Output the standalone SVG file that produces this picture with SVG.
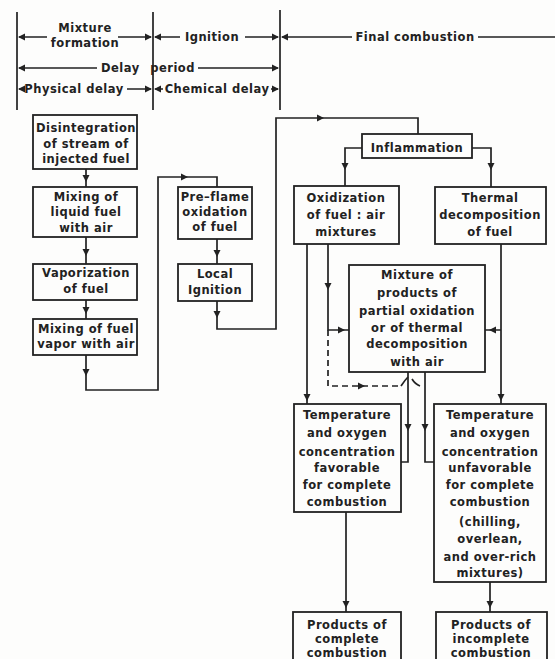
<svg xmlns="http://www.w3.org/2000/svg" xmlns:xlink="http://www.w3.org/1999/xlink" width="555" height="659" viewBox="0 0 555 659">
<style>
.bg{fill:#fdfdfc}
.box{fill:none;stroke:#222;stroke-width:1.8}
.ln{fill:none;stroke:#222;stroke-width:1.7}
.ds{fill:none;stroke:#222;stroke-width:1.7;stroke-dasharray:6 4}
.ah{fill:#222}
text{font-family:"DejaVu Sans","Liberation Sans",sans-serif;font-weight:bold;font-size:11.5px;fill:#222;text-anchor:middle;letter-spacing:0.5px}
.hd{font-size:11.5px}
</style>
<defs>
<path id="a" d="M-4,-3.5 L3,0 L-4,3.5 z"/>
</defs>
<rect class="bg" x="0" y="0" width="555" height="659"/>

<g id="header">
<path class="ln" d="M17,12 V110 M153,12 V110 M280,10 V110"/>
<path class="ln" d="M19,37 H47 M118,37 H151 M155,37 H180 M245,37 H278 M282,37 H352 M478,37 H555"/>
<path class="ln" d="M19,68 H97 M198,68 H278"/>
<path class="ln" d="M19,89 H22 M127,89 H151 M155,89 H163 M271,89 H278"/>
<g class="ah">
<use xlink:href="#a" transform="translate(21,37) rotate(180)"/>
<use xlink:href="#a" transform="translate(149,37)"/>
<use xlink:href="#a" transform="translate(157,37) rotate(180)"/>
<use xlink:href="#a" transform="translate(276,37)"/>
<use xlink:href="#a" transform="translate(284,37) rotate(180)"/>
<use xlink:href="#a" transform="translate(21,68) rotate(180)"/>
<use xlink:href="#a" transform="translate(276,68)"/>
<use xlink:href="#a" transform="translate(21,89) rotate(180)"/>
<use xlink:href="#a" transform="translate(149,89)"/>
<use xlink:href="#a" transform="translate(157,89) rotate(180)"/>
<use xlink:href="#a" transform="translate(276,89)"/>
</g>
<text class="hd" x="85" y="32">Mixture</text>
<text class="hd" x="85" y="47">formation</text>
<text class="hd" x="212" y="41">Ignition</text>
<text class="hd" x="415" y="41">Final combustion</text>
<text class="hd" x="148" y="72" word-spacing="6">Delay period</text>
<text class="hd" x="74" y="93">Physical delay</text>
<text class="hd" x="217" y="93">Chemical delay</text>
</g>

<g id="connectors">
<path class="ln" d="M86,169 V187 M86,237 V264 M86,300 V319"/>
<path class="ln" d="M86,355 V390 H158 V177 H217 V187"/>
<path class="ln" d="M217,239 V264"/>
<path class="ln" d="M217,301 V329 H276 V118 H418 V134"/>
<path class="ln" d="M362,148 H345 V186 M472,148 H491 V187"/>
<path class="ln" d="M307,244 V404 M328,244 V330 H349 M501,244 V404 M501,330 H485"/>
<path class="ds" d="M328,330 V386 H401"/>
<path class="ln" d="M401,386 Q405,380 408,377 M412,379 Q415,384 420,386" stroke-dasharray="none"/>
<path class="ln" d="M408,372 V462 H401 M425,372 V462 H434"/>
<path class="ln" d="M346,512 V612 M490,582 V612"/>
<g class="ah">
<use xlink:href="#a" transform="translate(86,179) rotate(90)"/>
<use xlink:href="#a" transform="translate(86,253) rotate(90)"/>
<use xlink:href="#a" transform="translate(86,311) rotate(90)"/>
<use xlink:href="#a" transform="translate(86,373) rotate(90)"/>
<use xlink:href="#a" transform="translate(185,177)"/>
<use xlink:href="#a" transform="translate(217,254) rotate(90)"/>
<use xlink:href="#a" transform="translate(217,315) rotate(90)"/>
<use xlink:href="#a" transform="translate(321,118)"/>
<use xlink:href="#a" transform="translate(345,167) rotate(90)"/>
<use xlink:href="#a" transform="translate(491,167) rotate(90)"/>
<use xlink:href="#a" transform="translate(307,398) rotate(90)"/>
<use xlink:href="#a" transform="translate(328,287) rotate(90)"/>
<use xlink:href="#a" transform="translate(342,330)"/>
<use xlink:href="#a" transform="translate(501,398) rotate(90)"/>
<use xlink:href="#a" transform="translate(492,330) rotate(180)"/>
<use xlink:href="#a" transform="translate(362,386)"/>
<use xlink:href="#a" transform="translate(408,428) rotate(90)"/>
<use xlink:href="#a" transform="translate(425,428) rotate(90)"/>
<use xlink:href="#a" transform="translate(346,605) rotate(90)"/>
<use xlink:href="#a" transform="translate(490,605) rotate(90)"/>
</g>
</g>

<g id="n1"><rect class="box" x="33" y="115" width="104" height="54"/>
<text x="86" y="132">Disintegration</text><text x="86" y="148">of stream of</text><text x="86" y="163">injected fuel</text></g>
<g id="n2"><rect class="box" x="33" y="187" width="104" height="50"/>
<text x="86" y="201">Mixing of</text><text x="86" y="216">liquid fuel</text><text x="86" y="232">with air</text></g>
<g id="n3"><rect class="box" x="33" y="264" width="104" height="36"/>
<text x="86" y="277">Vaporization</text><text x="86" y="293">of fuel</text></g>
<g id="n4"><rect class="box" x="33" y="319" width="104" height="36"/>
<text x="86" y="333">Mixing of fuel</text><text x="86" y="348">vapor with air</text></g>
<g id="n5"><rect class="box" x="178" y="187" width="74" height="52"/>
<text x="215" y="201">Pre–flame</text><text x="215" y="216">oxidation</text><text x="215" y="231">of fuel</text></g>
<g id="n6"><rect class="box" x="178" y="264" width="74" height="37"/>
<text x="215" y="278">Local</text><text x="215" y="294">Ignition</text></g>
<g id="n7"><rect class="box" x="362" y="134" width="110" height="24"/>
<text x="417" y="152">Inflammation</text></g>
<g id="n8"><rect class="box" x="294" y="186" width="105" height="58"/>
<text x="346" y="202">Oxidization</text><text x="346" y="219">of fuel : air</text><text x="346" y="236">mixtures</text></g>
<g id="n9"><rect class="box" x="435" y="187" width="111" height="57"/>
<text x="490" y="202">Thermal</text><text x="490" y="219">decomposition</text><text x="490" y="236">of fuel</text></g>
<g id="n10"><rect class="box" x="349" y="265" width="136" height="107"/>
<text x="417" y="279">Mixture of</text><text x="417" y="297">products of</text><text x="417" y="315">partial oxidation</text><text x="417" y="332">or of thermal</text><text x="417" y="348">decomposition</text><text x="417" y="366">with air</text></g>
<g id="n11"><rect class="box" x="294" y="404" width="107" height="108"/>
<text x="347" y="419">Temperature</text><text x="347" y="437">and oxygen</text><text x="347" y="456">concentration</text><text x="347" y="472">favorable</text><text x="347" y="489">for complete</text><text x="347" y="506">combustion</text></g>
<g id="n12"><rect class="box" x="434" y="404" width="112" height="178"/>
<text x="490" y="419">Temperature</text><text x="490" y="437">and oxygen</text><text x="490" y="456">concentration</text><text x="490" y="472">unfavorable</text><text x="490" y="489">for complete</text><text x="490" y="506">combustion</text><text x="490" y="526">(chilling,</text><text x="490" y="543">overlean,</text><text x="490" y="561">and over-rich</text><text x="490" y="577">mixtures)</text></g>
<g id="n13"><rect class="box" x="293" y="612" width="108" height="60"/>
<text x="347" y="629">Products of</text><text x="347" y="643">complete</text><text x="347" y="657">combustion</text></g>
<g id="n14"><rect class="box" x="436" y="612" width="111" height="60"/>
<text x="491" y="629">Products of</text><text x="491" y="643">incomplete</text><text x="491" y="657">combustion</text></g>
</svg>
